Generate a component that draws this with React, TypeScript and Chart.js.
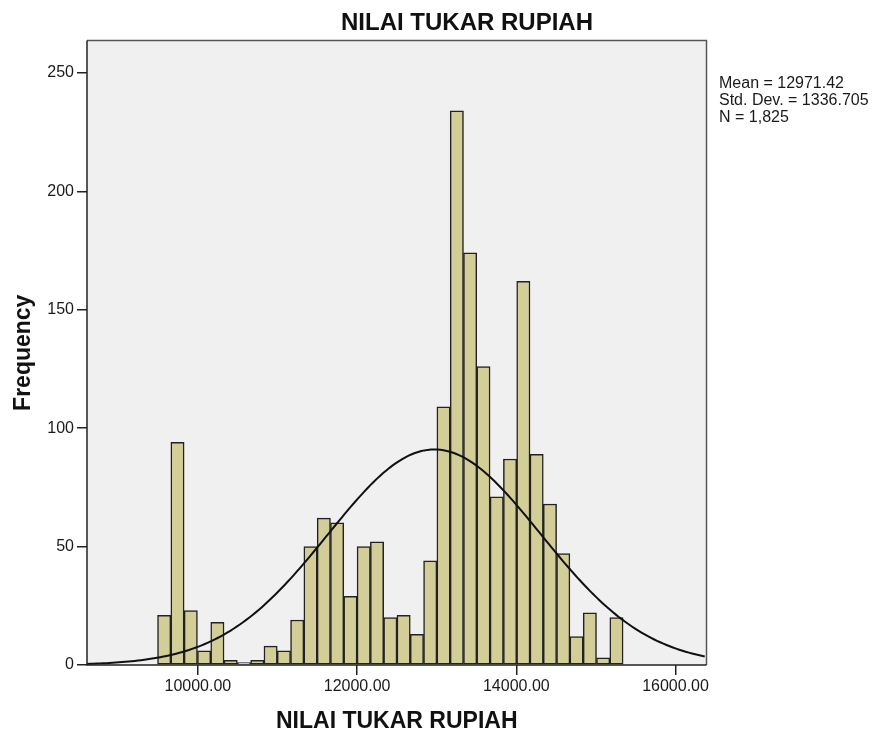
import React, { useEffect, useRef } from 'react';
import { Chart, registerables } from 'chart.js';

Chart.register(...registerables);

const chartTitle = 'NILAI TUKAR RUPIAH';
const xAxisTitle = 'NILAI TUKAR RUPIAH';
const yAxisTitle = 'Frequency';

const frequencies = [21, 94, 23, 6, 18, 2, 1, 2, 8, 6, 19, 50, 62, 60, 29, 50, 52, 20, 21, 13, 44, 109, 234, 174, 126, 71, 87, 162, 89, 68, 47, 12, 22, 3, 20];
const binStart = 9493;
const binWidth = 167.1;

const xTicks = [10000, 12000, 14000, 16000];
const yTicks = [0, 50, 100, 150, 200, 250];
const xMin = 8607;
const xMax = 16389;
const yMax = 263.7;

const mean = 12971.42;
const stdDev = 1336.705;
const count = 1825;
const statsLines = ['Mean = 12971.42', 'Std. Dev. = 1336.705', 'N = 1,825'];

const FONT = "Arial, 'Liberation Sans', sans-serif";

const barData = frequencies.map((f, i) => ({ x: binStart + (i + 0.5) * binWidth, y: f }));

const curveData: { x: number; y: number }[] = [];
for (let x = xMin; x <= xMax; x += 40) {
  const z = (x - mean) / stdDev;
  curveData.push({ x, y: (count * binWidth) / (stdDev * Math.sqrt(2 * Math.PI)) * Math.exp(-0.5 * z * z) });
}

const decorPlugin = {
  id: 'decor',
  beforeDraw(chart: any) {
    const { ctx, chartArea: a } = chart;
    ctx.save();
    ctx.fillStyle = '#f0f0f0';
    ctx.fillRect(a.left, a.top, a.right - a.left, a.bottom - a.top);
    ctx.restore();
  },
  afterDatasetsDraw(chart: any) {
    const { ctx, chartArea: a } = chart;
    ctx.save();
    ctx.lineWidth = 1.5;
    ctx.strokeStyle = '#555';
    ctx.beginPath();
    ctx.moveTo(a.left, a.top);
    ctx.lineTo(a.right, a.top);
    ctx.lineTo(a.right, a.bottom);
    ctx.stroke();
    ctx.strokeStyle = '#222';
    ctx.beginPath();
    ctx.moveTo(a.left, a.top);
    ctx.lineTo(a.left, a.bottom);
    ctx.lineTo(a.right, a.bottom);
    ctx.stroke();
    ctx.restore();
  },
  afterDraw(chart: any) {
    const { ctx } = chart;
    ctx.save();
    ctx.fillStyle = '#111';
    ctx.textBaseline = 'alphabetic';
    ctx.textAlign = 'center';
    ctx.font = `bold 24px ${FONT}`;
    ctx.fillText(chartTitle, 467, 30);
    ctx.textAlign = 'left';
    ctx.font = `16px ${FONT}`;
    ctx.fillStyle = '#1a1a1a';
    statsLines.forEach((s, i) => ctx.fillText(s, 719, 88 + i * 17));
    ctx.restore();
  },
};

export default function App() {
  const ref = useRef<HTMLCanvasElement>(null);
  useEffect(() => {
    if (!ref.current) return;
    const chart = new Chart(ref.current, {
      data: {
        datasets: [
          {
            type: 'line',
            data: curveData,
            borderColor: '#111',
            borderWidth: 2,
            pointRadius: 0,
            tension: 0,
            order: 0,
          },
          {
            type: 'bar',
            data: barData,
            backgroundColor: '#d3ce97',
            borderColor: '#222',
            borderWidth: 1.5,
            borderSkipped: false,
            barPercentage: 1,
            categoryPercentage: 1,
            order: 1,
          },
        ],
      } as any,
      options: {
        responsive: false,
        animation: false,
        layout: { padding: { top: 40.5, right: 165.5, left: 0, bottom: 0 } },
        plugins: { legend: { display: false }, tooltip: { enabled: false }, title: { display: false } },
        scales: {
          x: {
            type: 'linear',
            min: xMin,
            max: xMax,
            offset: false,
            afterBuildTicks: (s: any) => { s.ticks = xTicks.map((v) => ({ value: v })); },
            afterFit: (s: any) => { s.height = 68; },
            ticks: {
              callback: (v: any) => Number(v).toFixed(2),
              font: { family: FONT, size: 16 },
              color: '#1a1a1a',
              padding: 2,
              maxRotation: 0,
            },
            grid: { offset: false, drawOnChartArea: false, drawTicks: true, tickLength: 10, color: '#222', lineWidth: 1.5 },
            border: { display: false },
            title: {
              display: true,
              text: xAxisTitle,
              font: { family: FONT, size: 23, weight: 'bold', lineHeight: 1 },
              color: '#111',
              padding: 0,
            },
          },
          y: {
            type: 'linear',
            min: 0,
            max: yMax,
            afterBuildTicks: (s: any) => { s.ticks = yTicks.map((v) => ({ value: v })); },
            afterFit: (s: any) => { s.width = 87; },
            ticks: {
              font: { family: FONT, size: 16 },
              color: '#1a1a1a',
              padding: 3,
            },
            grid: { drawOnChartArea: false, drawTicks: true, tickLength: 10, color: '#222', lineWidth: 1.5 },
            border: { display: false },
            title: {
              display: true,
              text: yAxisTitle,
              font: { family: FONT, size: 23, weight: 'bold', lineHeight: 1 },
              color: '#111',
              padding: { top: 12, bottom: 0 },
            },
          },
        },
      } as any,
      plugins: [decorPlugin],
    });
    return () => chart.destroy();
  }, []);
  return (
    <div style={{ position: 'absolute', left: 0, top: 0, width: 872, height: 733 }}>
      <canvas ref={ref} width={872} height={733} />
    </div>
  );
}
